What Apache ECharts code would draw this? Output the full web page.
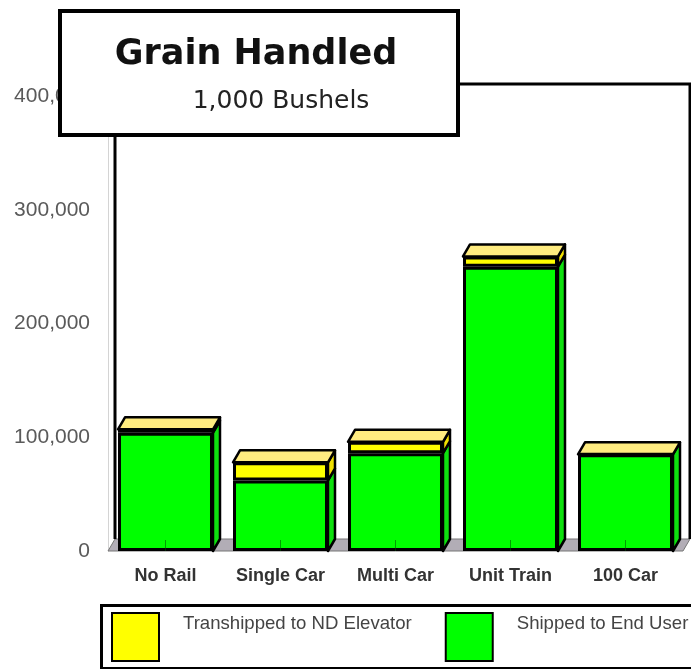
<!DOCTYPE html>
<html>
<head>
<meta charset="utf-8">
<script src="https://cdn.jsdelivr.net/npm/echarts@6/dist/echarts.min.js"></script>
<style>html,body{margin:0;padding:0;background:#fff;}#chart{width:691px;height:669px;}</style>
</head>
<body>
<div id="chart"></div>
<script>
// ---- data ----
const categories = ['No Rail', 'Single Car', 'Multi Car', 'Unit Train', '100 Car'];
const shippedToEndUser = [104000, 62000, 86000, 250000, 85000];
const transhippedToND = [3000, 16000, 10000, 9000, 0];
const yTicks = [0, 100000, 200000, 300000, 400000];
const seriesNames = ['Transhipped to ND Elevator', 'Shipped to End User'];
const titleText = 'Grain Handled';
const subtitleText = '1,000 Bushels';

// ---- style ----
const GREEN = '#00ff00', YELLOW = '#ffff00', CAP = '#ffec80', SIDE_GREEN = '#0ee00e', SIDE_YELLOW = '#f0e000';
const DX = 7, DY = 12, BAR_FRAC = 0.826;

const chart = echarts.init(document.getElementById('chart'));

function renderItem(params, api) {
  const i = api.value(0), g = api.value(1), yv = api.value(2);
  const p0 = api.coord([i, 0]), p1 = api.coord([i, g]), p2 = api.coord([i, g + yv]);
  const bw = api.size([1, 0])[0] * BAR_FRAC;
  const xl = p0[0] - bw / 2, xr = p0[0] + bw / 2;
  const stroke = {stroke: '#000', lineWidth: 2.5, lineJoin: 'round'};
  const children = [];
  if (params.dataIndex === 0) {
    const cs = params.coordSys;
    const L = cs.x, R = cs.x + cs.width, B = cs.y + cs.height, T = cs.y;
    children.push({type: 'polygon', shape: {points: [[L, B], [R, B], [R + DX, B - DY], [L + DX, B - DY]]},
      style: {fill: '#b2adb6', stroke: '#777', lineWidth: 1}});
    children.push({type: 'polyline', shape: {points: [[L + DX, B - DY], [L + DX, T - DY], [R + DX, T - DY], [R + DX, B - DY]]},
      style: {fill: null, stroke: '#000', lineWidth: 3}});
  }
  children.push({type: 'polygon', shape: {points: [[xr, p0[1]], [xr, p1[1]], [xr + DX, p1[1] - DY], [xr + DX, p0[1] - DY]]},
    style: Object.assign({fill: SIDE_GREEN}, stroke)});
  if (yv > 0) {
    children.push({type: 'polygon', shape: {points: [[xr, p1[1]], [xr, p2[1]], [xr + DX, p2[1] - DY], [xr + DX, p1[1] - DY]]},
      style: Object.assign({fill: SIDE_YELLOW}, stroke)});
  }
  children.push({type: 'polygon', shape: {points: [[xl, p2[1]], [xl + DX, p2[1] - DY], [xr + DX, p2[1] - DY], [xr, p2[1]]]},
    style: Object.assign({fill: CAP}, stroke)});
  return {type: 'group', children: children};
}

const option = {
  animation: false,
  backgroundColor: '#fff',
  grid: {left: 108, right: 8, top: 96, bottom: 118},
  xAxis: {
    type: 'category', data: categories, z: 10,
    axisLine: {show: false},
    axisTick: {show: true, inside: true, length: 11, alignWithLabel: true, lineStyle: {color: 'rgba(0,80,0,0.55)', width: 1}},
    axisLabel: {interval: 0, margin: 16, fontFamily: 'Liberation Sans, Arial, sans-serif', fontWeight: 'bold', fontSize: 18, color: '#333'}
  },
  yAxis: {
    type: 'value', min: yTicks[0], max: yTicks[yTicks.length - 1], interval: yTicks[1] - yTicks[0],
    splitLine: {show: false},
    axisLine: {show: true, lineStyle: {color: '#d4d4d4', width: 1}},
    axisTick: {show: false},
    axisLabel: {margin: 18, fontFamily: 'Liberation Sans, Arial, sans-serif', fontSize: 21, color: '#5a5a5a',
      formatter: v => v.toLocaleString('en-US')}
  },
  legend: {
    data: seriesNames, left: 106, top: 607, width: 640, orient: 'horizontal', icon: 'rect',
    itemWidth: 47, itemHeight: 48, itemGap: 33, selectedMode: false,
    formatter: name => '{a|' + name + '}\n{b|}',
    textStyle: {fontFamily: 'Liberation Sans, Arial, sans-serif', fontSize: 18.6, color: '#444', padding: [0, 0, 0, 19],
      rich: {
        a: {fontFamily: 'Liberation Sans, Arial, sans-serif', fontSize: 18.6, color: '#444', lineHeight: 22},
        b: {fontSize: 10, lineHeight: 26, height: 26}
      }}
  },
  series: [
    {
      type: 'custom', name: '3d', renderItem: renderItem, z: 1, silent: true,
      data: categories.map((c, i) => [i, shippedToEndUser[i], transhippedToND[i]]),
      encode: {x: 0, y: [1, 2]}
    },
    {
      type: 'bar', name: seriesNames[1], stack: 'total', data: shippedToEndUser, barWidth: (BAR_FRAC * 100) + '%', z: 3,
      itemStyle: {color: GREEN, borderColor: '#000', borderWidth: 3}
    },
    {
      type: 'bar', name: seriesNames[0], stack: 'total', data: transhippedToND, barWidth: (BAR_FRAC * 100) + '%', z: 3,
      itemStyle: {color: YELLOW, borderColor: '#000', borderWidth: 3}
    }
  ],
  graphic: [
    {type: 'rect', left: 99, top: 603, z: 0, shape: {width: 640, height: 63}, style: {fill: null, stroke: '#000', lineWidth: 3}},
    {type: 'rect', left: 58, top: 9, z: 100, shape: {width: 398, height: 124}, style: {fill: '#fff', stroke: '#000', lineWidth: 4}},
    {type: 'text', x: 256, y: 55, z: 101, style: {text: titleText, font: 'bold 35px "DejaVu Sans", sans-serif', fill: '#111', align: 'center', verticalAlign: 'middle'}},
    {type: 'text', x: 281, y: 101, z: 101, style: {text: subtitleText, font: '25px "DejaVu Sans", sans-serif', fill: '#222', align: 'center', verticalAlign: 'middle'}}
  ]
};
chart.setOption(option);
</script>
</body>
</html>
